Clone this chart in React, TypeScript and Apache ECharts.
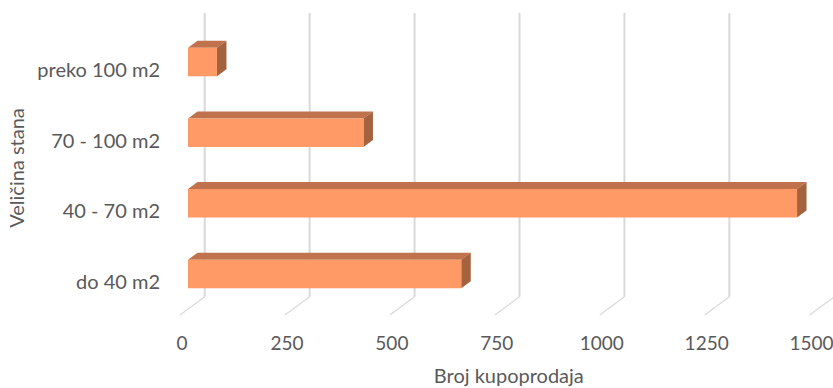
import React, { useEffect, useRef } from "react";
import * as echarts from "echarts";

// Apartment size classes (bottom to top) and number of sales
const categories = ["do 40 m2", "40 - 70 m2", "70 - 100 m2", "preko 100 m2"];
const sales = [651, 1451, 418, 69];
const xTicks = [0, 250, 500, 750, 1000, 1250, 1500];

const TEXT = "#595959";
const FONT = "Lato, 'Open Sans', sans-serif";

// oblique depth of the 3D box (bar front -> bar back)
const DX = 9.5;
const DY = -7;
// wall / floor offsets relative to the bar front plane
const WALL_DX = 16.7;
const WALL_TOP = 13;
const WALL_BOTTOM = 296.7;
const FLOOR_DX = -8;
const FLOOR_Y = 315;

export default function App() {
  const ref = useRef<HTMLDivElement>(null);

  useEffect(() => {
    document.body.style.margin = "0";
    if (!ref.current) return;
    const chart = echarts.init(ref.current, undefined, { renderer: "svg" });

    chart.setOption({
      animation: false,
      backgroundColor: "#ffffff",
      grid: {
        left: 188,
        right: 15.4,
        top: 26.7,
        bottom: 78.7,
        containLabel: false,
        outerBoundsMode: "none",
      },
      xAxis: {
        type: "value",
        min: 0,
        max: 1500,
        interval: 250,
        axisLine: { show: false },
        axisTick: { show: false },
        splitLine: { show: false },
        axisLabel: {
          color: TEXT,
          fontFamily: FONT,
          fontSize: 19,
          margin: 24,
          padding: [0, 12, 0, 0],
          formatter: (v: number) => String(v),
        },
        name: "Broj kupoprodaja",
        nameLocation: "middle",
        nameGap: 56,
        nameTextStyle: {
          color: TEXT,
          fontFamily: FONT,
          fontSize: 20,
          padding: [0, 0, 0, 12],
        },
      },
      yAxis: {
        type: "category",
        data: categories,
        axisLine: { show: false },
        axisTick: { show: false },
        splitLine: { show: false },
        axisLabel: {
          color: TEXT,
          fontFamily: FONT,
          fontSize: 20,
          margin: 28,
          verticalAlign: "top",
          lineHeight: 14,
        },
        name: "Veličina stana",
        nameLocation: "middle",
        nameRotate: 90,
        nameGap: 157,
        nameTextStyle: { color: TEXT, fontFamily: FONT, fontSize: 20 },
      },
      series: [
        {
          // back wall gridlines with their floor diagonals
          type: "custom",
          z: 1,
          clip: false,
          silent: true,
          data: xTicks.map((v) => [v]),
          encode: { x: 0 },
          renderItem: (params: any, api: any) => {
            const p = api.coord([api.value(0), 0]);
            const x = p[0];
            return {
              type: "group",
              children: [
                {
                  type: "line",
                  shape: { x1: x + WALL_DX, y1: WALL_TOP, x2: x + WALL_DX, y2: WALL_BOTTOM },
                  style: { stroke: "#d9d9d9", lineWidth: 2 },
                },
                {
                  type: "line",
                  shape: { x1: x + WALL_DX, y1: WALL_BOTTOM, x2: x + FLOOR_DX, y2: FLOOR_Y },
                  style: { stroke: "#d9d9d9", lineWidth: 1.2 },
                },
              ],
            };
          },
        },
        {
          // 3D bars: front, top and side faces
          type: "custom",
          z: 2,
          clip: false,
          data: sales.map((v, i) => [v, i]),
          encode: { x: 0, y: 1 },
          renderItem: (params: any, api: any) => {
            const start = api.coord([0, api.value(1)]);
            const end = api.coord([api.value(0), api.value(1)]);
            const band = api.size([0, 1])[1];
            const h = band * 0.403;
            const x0 = start[0];
            const x1 = end[0];
            const top = start[1] - h / 2;
            const bottom = start[1] + h / 2;
            return {
              type: "group",
              children: [
                {
                  type: "polygon",
                  shape: {
                    points: [
                      [x0, top],
                      [x0 + DX, top + DY],
                      [x1 + DX, top + DY],
                      [x1, top],
                    ],
                  },
                  style: { fill: "#c0724c" },
                },
                {
                  type: "polygon",
                  shape: {
                    points: [
                      [x1, top],
                      [x1 + DX, top + DY],
                      [x1 + DX, bottom + DY],
                      [x1, bottom],
                    ],
                  },
                  style: { fill: "#a5623f" },
                },
                {
                  type: "rect",
                  shape: { x: x0, y: top, width: x1 - x0, height: h },
                  style: { fill: "#ff9966" },
                },
              ],
            };
          },
        },
      ],
    });

    return () => chart.dispose();
  }, []);

  return <div ref={ref} style={{ width: 833, height: 388 }} />;
}
